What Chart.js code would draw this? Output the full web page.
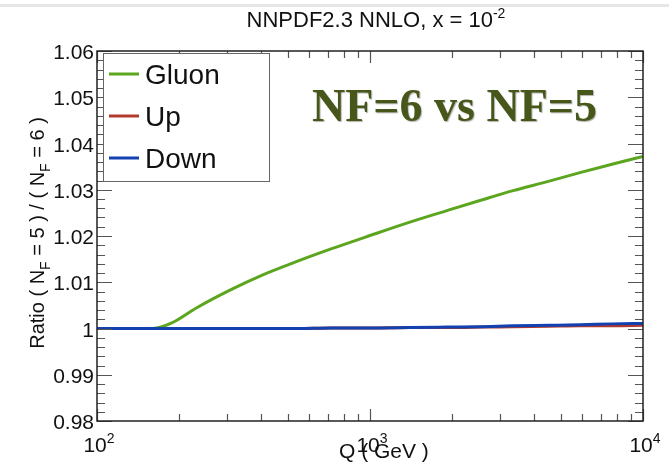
<!DOCTYPE html>
<html>
<head>
<meta charset="utf-8">
<script src="https://cdn.jsdelivr.net/npm/chart.js@4/dist/chart.umd.min.js"></script>
<style>
  body { margin: 0; background: #fff; }
  canvas { display: block; }
</style>
</head>
<body>
<canvas id="myChart" width="669" height="464"></canvas>
<script>
const qValues = [100, 130, 160, 188, 232, 307, 405, 540, 720, 1000, 1400, 1915, 2600, 3342, 4500, 5875, 7700, 10000];
const gluonRatio = [1, 1, 1, 1.0012, 1.0045, 1.0083, 1.0116, 1.0145, 1.0172, 1.0201, 1.0230, 1.0255, 1.0279, 1.0298, 1.0318, 1.0337, 1.0355, 1.0372];
const upRatio = [1, 1, 1, 1, 1, 1, 1, 1, 1.0001, 1.0001, 1.0002, 1.0002, 1.0003, 1.0004, 1.0005, 1.0006, 1.0006, 1.0007];
const downRatio = [1, 1, 1, 1, 1, 1, 1, 1, 1.0001, 1.0001, 1.0002, 1.0003, 1.0004, 1.0006, 1.0007, 1.0008, 1.0010, 1.0011];
const seriesNames = ['Gluon', 'Up', 'Down'];
const seriesColors = ['#5ca51e', '#b23a2c', '#1342b0'];

const yTickValues = [0.98, 0.99, 1, 1.01, 1.02, 1.03, 1.04, 1.05, 1.06];
const yTickLabels = ['0.98', '0.99', '1', '1.01', '1.02', '1.03', '1.04', '1.05', '1.06'];
const xTickValues = [100, 1000, 10000];
const xTickExponents = ['2', '3', '4'];

const FONT = '"Liberation Sans", Arial, sans-serif';

function toPoints(ys) {
    return qValues.map((q, i) => ({ x: q, y: ys[i] }));
}

// draws a string made of [text, isSub] parts, from x, on baseline y
function drawParts(ctx, parts, x, y, size, subSize, subShift) {
    parts.forEach(p => {
        ctx.font = (p[1] ? subSize : size) + 'px ' + FONT;
        ctx.fillText(p[0], x, y + (p[1] ? subShift : 0));
        x += ctx.measureText(p[0]).width;
    });
}
function partsWidth(ctx, parts, size, subSize) {
    let w = 0;
    parts.forEach(p => {
        ctx.font = (p[1] ? subSize : size) + 'px ' + FONT;
        w += ctx.measureText(p[0]).width;
    });
    return w;
}

const framePlugin = {
    id: 'frame',
    afterDraw(chart) {
        const ctx = chart.ctx;
        const a = chart.chartArea;
        const xs = chart.scales.x, ys = chart.scales.y;
        ctx.save();

        // faint band at the very top
        ctx.fillStyle = '#e6e6e6';
        ctx.fillRect(0, 4, 669, 3);

        // ticks, pointing inwards on all four sides
        ctx.strokeStyle = '#555';
        ctx.lineWidth = 1.2;
        ctx.beginPath();
        for (let i = 0; i <= 40; i++) {
            const v = 0.98 + i * 0.002;
            const py = Math.round(ys.getPixelForValue(v)) + 0.5;
            const len = (i % 5 === 0) ? 15 : 8;
            ctx.moveTo(a.left, py); ctx.lineTo(a.left + len, py);
            ctx.moveTo(a.right, py); ctx.lineTo(a.right - len, py);
        }
        [100, 1000].forEach(dec => {
            for (let m = 1; m <= 10; m++) {
                const px = Math.round(xs.getPixelForValue(dec * m)) + 0.5;
                const len = (m === 1 || m === 10) ? 12 : 7;
                ctx.moveTo(px, a.bottom); ctx.lineTo(px, a.bottom - len);
                ctx.moveTo(px, a.top); ctx.lineTo(px, a.top + len);
            }
        });
        ctx.stroke();

        // frame
        ctx.strokeStyle = '#222';
        ctx.lineWidth = 1.5;
        ctx.strokeRect(a.left, a.top, a.right - a.left, a.bottom - a.top);

        // y tick labels
        ctx.fillStyle = '#111';
        ctx.font = '21px ' + FONT;
        ctx.textAlign = 'right';
        ctx.textBaseline = 'alphabetic';
        yTickValues.forEach((v, i) => {
            ctx.fillText(yTickLabels[i], a.left - 3, ys.getPixelForValue(v) + 8);
        });

        // x tick labels 10^n
        ctx.textAlign = 'left';
        xTickValues.forEach((v, i) => {
            const parts = [['10', false], [xTickExponents[i], true]];
            const w = partsWidth(ctx, parts, 21, 14);
            drawParts(ctx, parts, xs.getPixelForValue(v) - w / 2 + 2, 452, 21, 14, -9);
        });

        // x axis title
        ctx.font = '21px ' + FONT;
        ctx.fillText('Q ( GeV )', 339, 458);

        // y axis title, rotated
        const yParts = [['Ratio ( N', false], ['F', true], [' = 5 ) / ( N', false], ['F', true], [' = 6 )', false]];
        const yw = partsWidth(ctx, yParts, 20, 14);
        ctx.save();
        ctx.translate(44, 233);
        ctx.rotate(-Math.PI / 2);
        drawParts(ctx, yParts, -yw / 2, 0, 20, 14, 6);
        ctx.restore();

        // title with superscript
        const tParts = [['NNPDF2.3 NNLO, x = 10', false], ['-2', true]];
        const tw = partsWidth(ctx, tParts, 22, 14);
        drawParts(ctx, tParts, 376 - tw / 2, 27, 22, 14, -9);

        // legend box
        ctx.fillStyle = '#fff';
        ctx.fillRect(103, 53, 166, 128);
        ctx.strokeStyle = '#666';
        ctx.lineWidth = 1;
        ctx.strokeRect(103.5, 53.5, 166, 128);
        const legendY = [74, 116, 158];
        chart.data.datasets.forEach((ds, i) => {
            ctx.strokeStyle = ds.borderColor;
            ctx.lineWidth = 3;
            ctx.beginPath();
            ctx.moveTo(109, legendY[i]); ctx.lineTo(139, legendY[i]);
            ctx.stroke();
            ctx.fillStyle = '#111';
            ctx.font = '28px ' + FONT;
            ctx.textAlign = 'left';
            ctx.fillText(ds.label, 145, legendY[i] + 10);
        });

        // annotation
        ctx.font = 'bold 46px "Liberation Serif", "Times New Roman", serif';
        ctx.fillStyle = '#47571a';
        ctx.shadowColor = 'rgba(0,0,0,0.3)';
        ctx.shadowOffsetX = 1;
        ctx.shadowOffsetY = 1;
        ctx.shadowBlur = 1;
        ctx.fillText('NF=6 vs NF=5', 312, 121);

        ctx.restore();
    }
};

var ctx = document.getElementById('myChart').getContext('2d');
var myChart = new Chart(ctx, {
    type: 'line',
    data: {
        datasets: [
            { label: seriesNames[0], data: toPoints(gluonRatio), borderColor: seriesColors[0], order: 2 },
            { label: seriesNames[1], data: toPoints(upRatio), borderColor: seriesColors[1], order: 1 },
            { label: seriesNames[2], data: toPoints(downRatio), borderColor: seriesColors[2], order: 0 }
        ]
    },
    options: {
        responsive: false,
        animation: false,
        layout: { padding: { left: 97, right: 26, top: 51, bottom: 43 } },
        elements: {
            line: { borderWidth: 3, tension: 0, cubicInterpolationMode: 'monotone', fill: false },
            point: { radius: 0 }
        },
        scales: {
            x: { type: 'logarithmic', min: 100, max: 10000, display: false },
            y: { type: 'linear', min: 0.98, max: 1.06, display: false }
        },
        plugins: {
            legend: { display: false },
            tooltip: { enabled: false }
        }
    },
    plugins: [framePlugin]
});
</script>
</body>
</html>
